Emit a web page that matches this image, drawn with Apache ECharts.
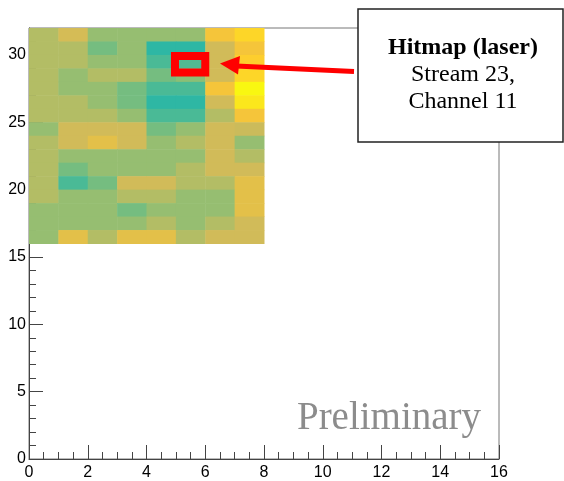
<!DOCTYPE html>
<html><head><meta charset="utf-8">
<script src="https://cdn.jsdelivr.net/npm/echarts@6/dist/echarts.min.js"></script>
<style>html,body{margin:0;padding:0;background:#fff}#c{width:564px;height:481px}</style>
</head><body><div id="c"></div>
<script>
// Channel columns (x bins) and stream rows (y bins, top to bottom)
const xBins = [0, 1, 2, 3, 4, 5, 6, 7];
const yBins = [31, 30, 29, 28, 27, 26, 25, 24, 23, 22, 21, 20, 19, 18, 17, 16];
// relative hit rate per cell, one array per row (top row first)
const row31 = [70, 76, 65, 65, 65, 65, 85, 91];
const row30 = [70, 70, 60, 65, 50, 50, 75, 85];
const row29 = [70, 70, 65, 65, 54, 55, 75, 89];
const row28 = [70, 65, 70, 70, 60, 63, 75, 91];
const row27 = [70, 65, 65, 60, 54, 54, 85, 99];
const row26 = [70, 70, 65, 60, 50, 50, 75, 95];
const row25 = [70, 70, 70, 65, 54, 54, 70, 85];
const row24 = [65, 75, 75, 75, 60, 65, 75, 74];
const row23 = [70, 75, 80, 75, 65, 70, 75, 65];
const row22 = [70, 65, 65, 65, 65, 65, 75, 70];
const row21 = [70, 60, 65, 65, 65, 70, 75, 75];
const row20 = [70, 54, 60, 75, 75, 70, 70, 80];
const row19 = [70, 65, 65, 70, 70, 65, 65, 80];
const row18 = [65, 65, 65, 60, 65, 65, 65, 80];
const row17 = [65, 65, 65, 65, 70, 65, 70, 75];
const row16 = [65, 80, 70, 80, 80, 70, 75, 75];
const rows = [row31, row30, row29, row28, row27, row26, row25, row24,
              row23, row22, row21, row20, row19, row18, row17, row16];
// highlighted cell box (x0, y0, x1, y1) in axis units
const highlightBox = [4.97, 28.7, 6.0, 29.93];
// tick labels
const xTickLabels = [0, 2, 4, 6, 8, 10, 12, 14, 16];
const yTickLabels = [0, 5, 10, 15, 20, 25, 30];
const yMinorTicks = [];
for (let i = 0; i <= 32; i++) yMinorTicks.push(i);

const cells = [];
yBins.forEach((y, r) => xBins.forEach((x, c) => cells.push([x, y, rows[r][c]])));

const kBird = ['#352a87', '#0f5cdd', '#1481d6', '#06a4ca', '#2eb7a4', '#87bf77', '#d1bb59', '#fec832', '#f9fb0e'];

const chart = echarts.init(document.getElementById('c'), null, {renderer: 'canvas'});
const axisColor = '#444';
const labelFont = {fontFamily: '"Liberation Sans Narrow", "Liberation Sans"', fontSize: 16, color: '#000'};

chart.setOption({
  animation: false,
  backgroundColor: '#fff',
  grid: {left: 29, right: 65, top: 28, bottom: 21, show: true, borderColor: '#777', borderWidth: 1, backgroundColor: 'transparent'},
  visualMap: {show: false, type: 'continuous', min: 0, max: 100, dimension: 2, seriesIndex: 0, inRange: {color: kBird}},
  xAxis: {
    type: 'value', min: 0, max: 16, interval: 2,
    axisLine: {show: true, lineStyle: {color: axisColor, width: 1}},
    axisTick: {show: true, inside: true, length: 14, lineStyle: {color: axisColor}},
    minorTick: {show: true, splitNumber: 4, length: 7, lineStyle: {color: axisColor}},
    splitLine: {show: false},
    axisLabel: Object.assign({margin: 6, customValues: xTickLabels}, labelFont)
  },
  yAxis: [{
    type: 'value', min: 0, max: 32,
    axisLine: {show: true, lineStyle: {color: axisColor, width: 1}},
    axisTick: {show: true, inside: true, length: 14, lineStyle: {color: axisColor}, customValues: yTickLabels},
    splitLine: {show: false},
    axisLabel: Object.assign({margin: 3, customValues: yTickLabels}, labelFont)
  }, {
    type: 'value', min: 0, max: 32, position: 'left', offset: 0,
    axisLine: {show: false},
    axisTick: {show: true, inside: true, length: 7, lineStyle: {color: axisColor}, customValues: yMinorTicks},
    splitLine: {show: false},
    axisLabel: {show: false}
  }],
  series: [{
    type: 'custom',
    data: cells,
    encode: {x: 0, y: 1},
    renderItem: function (params, api) {
      const x = api.value(0), y = api.value(1);
      const p0 = api.coord([x, y + 1]);
      const p1 = api.coord([x + 1, y]);
      return {type: 'rect', shape: {x: p0[0], y: p0[1], width: p1[0] - p0[0] + 0.5, height: p1[1] - p0[1] + 0.5},
              style: {fill: api.visual('color')}};
    },
    z: 2
  }, {
    type: 'custom',
    data: [highlightBox],
    renderItem: function (params, api) {
      const a = api.coord([api.value(0), api.value(3)]);
      const b = api.coord([api.value(2), api.value(1)]);
      return {type: 'rect', shape: {x: a[0], y: a[1], width: b[0] - a[0], height: b[1] - a[1]},
              style: {fill: 'none', stroke: '#ff0000', lineWidth: 8}};
    },
    clip: false,
    z: 5
  }],
  graphic: [
    {type: 'text', z: 10, style: {x: 389, y: 419, text: 'Preliminary', font: '39px "Liberation Serif"', fill: '#8c8c8c', align: 'center', verticalAlign: 'middle'}},
    {type: 'polyline', z: 20, shape: {points: [[236, 66], [354, 71.5]]}, style: {stroke: '#ff0000', lineWidth: 5, fill: 'none'}},
    {type: 'polygon', z: 20, shape: {points: [[220, 63.5], [240, 56], [238, 74.5]]}, style: {fill: '#ff0000'}},
    {type: 'rect', z: 30, shape: {x: 358, y: 9, width: 205, height: 133}, style: {fill: '#fff', stroke: '#222', lineWidth: 1.5}},
    {type: 'text', z: 31, style: {x: 463, y: 48, text: 'Hitmap (laser)', font: 'bold 24px "Liberation Serif"', fill: '#000', align: 'center', verticalAlign: 'middle'}},
    {type: 'text', z: 31, style: {x: 463, y: 75, text: 'Stream 23,', font: '24px "Liberation Serif"', fill: '#000', align: 'center', verticalAlign: 'middle'}},
    {type: 'text', z: 31, style: {x: 463, y: 102, text: 'Channel 11', font: '24px "Liberation Serif"', fill: '#000', align: 'center', verticalAlign: 'middle'}}
  ]
});
</script>
</body></html>
